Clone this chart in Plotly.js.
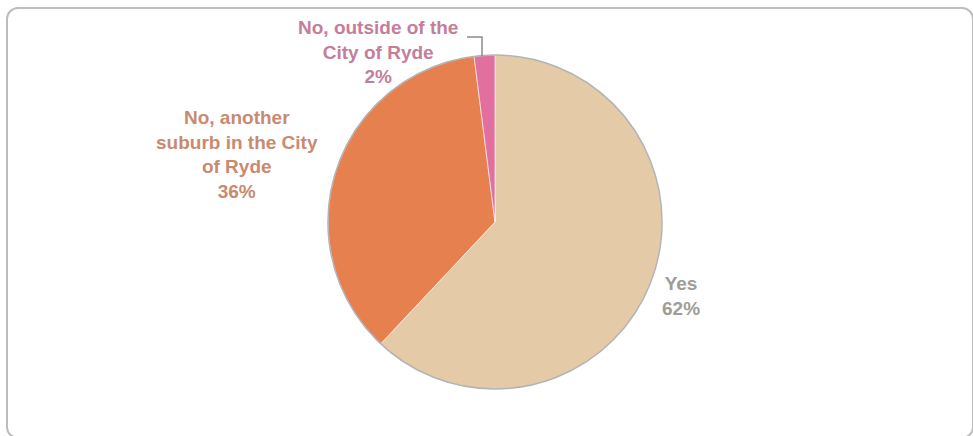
<!DOCTYPE html>
<html>
<head>
<meta charset="utf-8">
<script src="https://cdn.plot.ly/plotly-3.0.1.min.js"></script>
<style>
  html, body { margin: 0; padding: 0; background: #fff; overflow: hidden; }
  #frame { position: absolute; left: 6px; top: 7px; width: 968px; height: 432px;
           border: 2px solid #bdbdbd; border-radius: 12px; box-sizing: border-box; }
  #chart { position: absolute; left: 0; top: 0; width: 973px; height: 436px; }
</style>
</head>
<body>
<div id="frame"></div>
<div id="chart"></div>
<script>
const categories = ['Yes', 'No, another suburb in the City of Ryde', 'No, outside of the City of Ryde'];
const displayLabels = ['Yes', 'No, another<br>suburb in the City<br>of Ryde', 'No, outside of the<br>City of Ryde'];
const values = [62, 36, 2];
const sliceColors = ['#e4caa7', '#e7804f', '#e2709e'];
const labelColors = ['#a19c96', '#c98a70', '#c47e9a'];

const W = 973, H = 436;
const dom = { x: [0.3371, 0.6804], y: [0.1078, 0.8739] };

const pie = {
  type: 'pie',
  labels: categories,
  values: values,
  sort: false,
  direction: 'clockwise',
  rotation: 0,
  domain: dom,
  marker: { colors: sliceColors, line: { color: 'rgba(255,255,255,0.6)', width: 1 } },
  textinfo: 'none',
  hoverinfo: 'label+percent',
  automargin: false,
  showlegend: false
};

const outline = {
  type: 'pie',
  values: [1],
  labels: ['outline'],
  domain: dom,
  sort: false,
  marker: { colors: ['rgba(0,0,0,0)'], line: { color: '#b3b3b3', width: 1.5 } },
  textinfo: 'none',
  hoverinfo: 'skip',
  showlegend: false
};

// label placement (pixel centres of each label block)
const labelPos = [[681, 296], [237, 155], [378, 52]];
const total = values.reduce((a, b) => a + b, 0);
const annotations = categories.map((c, i) => ({
  xref: 'paper', yref: 'paper',
  x: labelPos[i][0] / W, y: 1 - labelPos[i][1] / H,
  xanchor: 'center', yanchor: 'middle', align: 'center',
  showarrow: false,
  text: displayLabels[i] + '<br>' + Math.round(values[i] / total * 100) + '%',
  font: { family: 'Liberation Sans, Arial, sans-serif', size: 19, color: labelColors[i], weight: 'bold' }
}));

// elbow connector for the small slice label
const shapes = [{
  type: 'path', xref: 'paper', yref: 'paper',
  path: `M ${482 / W},${1 - 56 / H} L ${482 / W},${1 - 37 / H} L ${467 / W},${1 - 37 / H}`,
  line: { color: '#8c8c8c', width: 1.5 }
}];

Plotly.newPlot('chart', [pie, outline], {
  width: W, height: H,
  margin: { l: 0, r: 0, t: 0, b: 0 },
  paper_bgcolor: 'rgba(0,0,0,0)',
  plot_bgcolor: 'rgba(0,0,0,0)',
  font: { family: 'Liberation Sans, Arial, sans-serif', color: '#999' },
  annotations: annotations,
  shapes: shapes,
  showlegend: false
}, { displayModeBar: false, staticPlot: true });
</script>
</body>
</html>
